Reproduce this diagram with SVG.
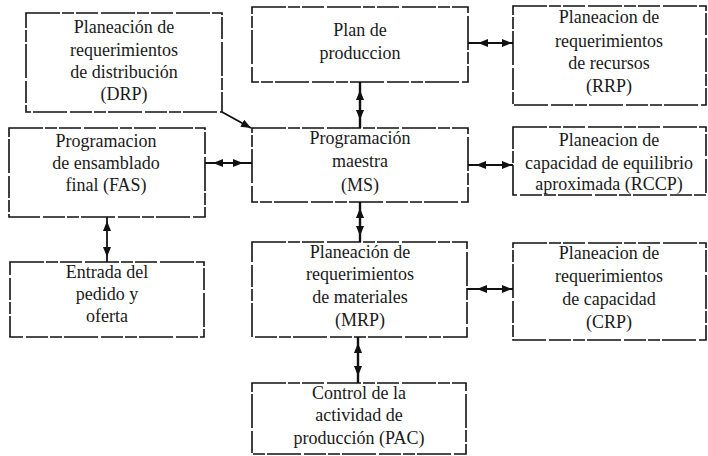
<svg xmlns="http://www.w3.org/2000/svg" width="708" height="456" viewBox="0 0 708 456">
<defs>
<style>
.box{fill:#fff;stroke:#111;stroke-width:1.6;stroke-dasharray:34 2 12 2 22 3}
.t{font-family:"Liberation Serif","Times New Roman",serif;font-size:18px;fill:#1a1a1a;text-anchor:middle}
.ln{stroke:#111;stroke-width:1.8;fill:none}
.hd{stroke:#111;stroke-width:0.1;fill:none}
</style>
<marker id="ah" viewBox="0 0 10 8" refX="10" refY="4" markerWidth="10" markerHeight="8" markerUnits="userSpaceOnUse" orient="auto-start-reverse">
<path d="M0,0 L10,4 L0,8 Z" fill="#111"/>
</marker>
</defs>
<rect width="708" height="456" fill="#fff"/>

<g id="connectors">
<!-- Plan <-> RRP -->
<line class="ln" x1="468" y1="43" x2="513" y2="43"/>
<line class="hd" x1="478" y1="43" x2="512" y2="43" marker-start="url(#ah)" marker-end="url(#ah)"/>
<!-- Plan <-> MS -->
<line class="ln" x1="360" y1="82" x2="360" y2="128" style="stroke-width:2.4"/>
<line class="hd" x1="360" y1="90" x2="360" y2="120" marker-start="url(#ah)" marker-end="url(#ah)"/>
<!-- DRP -> MS -->
<path class="ln" d="M222,112 L251,128"/>
<line class="hd" x1="222" y1="112" x2="251" y2="128" marker-end="url(#ah)"/>
<!-- FAS <-> MS -->
<line class="ln" x1="205" y1="163" x2="252" y2="163"/>
<line class="hd" x1="213" y1="163" x2="243" y2="163" marker-start="url(#ah)" marker-end="url(#ah)"/>
<!-- MS <-> RCCP -->
<line class="ln" x1="468" y1="165" x2="513" y2="165"/>
<line class="hd" x1="476" y1="165" x2="512" y2="165" marker-start="url(#ah)" marker-end="url(#ah)"/>
<!-- FAS <-> Entrada -->
<line class="ln" x1="107" y1="217" x2="107" y2="262"/>
<line class="hd" x1="107" y1="221" x2="107" y2="257" marker-start="url(#ah)" marker-end="url(#ah)"/>
<!-- MS <-> MRP -->
<line class="ln" x1="360" y1="202" x2="360" y2="242" style="stroke-width:2.4"/>
<line class="hd" x1="360" y1="208" x2="360" y2="236" marker-start="url(#ah)" marker-end="url(#ah)"/>
<!-- MRP <-> CRP -->
<line class="ln" x1="467" y1="289" x2="513" y2="289"/>
<line class="hd" x1="477" y1="289" x2="512" y2="289" marker-start="url(#ah)" marker-end="url(#ah)"/>
<!-- MRP <-> PAC -->
<line class="ln" x1="358" y1="337" x2="358" y2="383" style="stroke-width:2.4"/>
<line class="hd" x1="358" y1="343" x2="358" y2="376" marker-start="url(#ah)" marker-end="url(#ah)"/>
</g>

<g id="drp">
<rect class="box" x="26" y="13" width="196" height="99"/>
<text class="t" x="124" y="33">Planeación de</text>
<text class="t" x="124" y="56">requerimientos</text>
<text class="t" x="124" y="78">de distribución</text>
<text class="t" x="124" y="100">(DRP)</text>
</g>

<g id="plan">
<rect class="box" x="252" y="7" width="216" height="75"/>
<text class="t" x="360" y="36">Plan de</text>
<text class="t" x="360" y="59">produccion</text>
</g>

<g id="rrp">
<rect class="box" x="513" y="6" width="193" height="99"/>
<text class="t" x="609" y="23">Planeacion de</text>
<text class="t" x="609" y="47">requerimientos</text>
<text class="t" x="609" y="69">de recursos</text>
<text class="t" x="609" y="92">(RRP)</text>
</g>

<g id="fas">
<rect class="box" x="9" y="128" width="196" height="89"/>
<text class="t" x="106" y="147">Programacion</text>
<text class="t" x="106" y="169">de ensamblado</text>
<text class="t" x="106" y="191">final (FAS)</text>
</g>

<g id="ms">
<rect class="box" x="252" y="128" width="216" height="74"/>
<text class="t" x="360" y="144">Programación</text>
<text class="t" x="360" y="167">maestra</text>
<text class="t" x="360" y="191">(MS)</text>
</g>

<g id="rccp">
<rect class="box" x="513" y="127" width="193" height="68"/>
<text class="t" x="609" y="146">Planeacion de</text>
<text class="t" x="609" y="169">capacidad de equilibrio</text>
<text class="t" x="609" y="190">aproximada (RCCP)</text>
</g>

<g id="entrada">
<rect class="box" x="10" y="262" width="194" height="75"/>
<text class="t" x="107" y="278">Entrada del</text>
<text class="t" x="107" y="300">pedido y</text>
<text class="t" x="107" y="322">oferta</text>
</g>

<g id="mrp">
<rect class="box" x="252" y="242" width="215" height="95"/>
<text class="t" x="360" y="258">Planeación de</text>
<text class="t" x="360" y="280">requerimientos</text>
<text class="t" x="360" y="303">de materiales</text>
<text class="t" x="360" y="326">(MRP)</text>
</g>

<g id="crp">
<rect class="box" x="513" y="243" width="193" height="97"/>
<text class="t" x="609" y="259">Planeacion de</text>
<text class="t" x="609" y="282">requerimientos</text>
<text class="t" x="609" y="305">de capacidad</text>
<text class="t" x="609" y="328">(CRP)</text>
</g>

<g id="pac">
<rect class="box" x="252" y="383" width="214" height="71"/>
<text class="t" x="359" y="399">Control de la</text>
<text class="t" x="359" y="421">actividad de</text>
<text class="t" x="359" y="444">producción (PAC)</text>
</g>
</svg>
